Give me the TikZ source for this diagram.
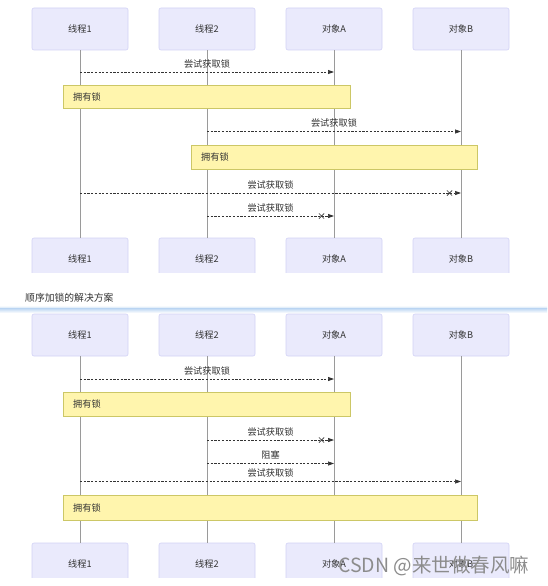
\documentclass[tikz,border=0pt]{standalone}
\usepackage{fontspec}
\setmainfont{Noto Sans CJK SC}
\usetikzlibrary{arrows.meta}
\definecolor{actfill}{HTML}{EAEAFC}
\definecolor{actdraw}{HTML}{D2D2F6}
\definecolor{notefill}{HTML}{FFF5AD}
\definecolor{notedraw}{HTML}{CCC766}
\definecolor{txt}{HTML}{333333}
\definecolor{life}{HTML}{9A9A9A}
\definecolor{sepblue}{HTML}{C4DBF4}
\definecolor{wm}{HTML}{8C8C8C}
\begin{document}
\begin{tikzpicture}[x=1pt,y=-1pt,
  font=\fontsize{9.2}{10}\selectfont,
  actor/.style={draw=actdraw, fill=actfill, rounded corners=2pt, line width=0.6pt,
    minimum width=96pt, minimum height=42pt, inner sep=0pt, text=txt},
  notebox/.style={draw=notedraw, fill=notefill, line width=0.6pt, inner sep=0pt},
  notetext/.style={anchor=west, inner sep=0pt, text=txt},
  lifeline/.style={draw=life, line width=0.7pt},
  msg/.style={draw=txt, line width=0.7pt, dash pattern=on 2.2pt off 1.5pt,
    -{Triangle[length=6pt,width=4pt]}},
  lbl/.style={midway, above=3.5pt, inner sep=0pt, text=txt},
  crossmk/.style={draw=txt, line width=0.7pt}
]
\useasboundingbox (0,0) rectangle (547,586);
\fill[white] (0,0) rectangle (547,586);

% ================= diagram 1 =================
\node[actor] (t1) at (80,29) {线程1};
\node[actor] (t2) at (207,29) {线程2};
\node[actor] (ta) at (334,29) {对象A};
\node[actor] (tb) at (461,29) {对象B};
\begin{scope}
  \clip (0,230) rectangle (547,272);
  \node[actor] (u1) at (80,259) {线程1};
  \node[actor] (u2) at (207,259) {线程2};
  \node[actor] (ua) at (334,259) {对象A};
  \node[actor] (ub) at (461,259) {对象B};
\end{scope}
\draw[lifeline] (t1.south) -- (u1.north);
\draw[lifeline] (t2.south) -- (u2.north);
\draw[lifeline] (ta.south) -- (ua.north);
\draw[lifeline] (tb.south) -- (ub.north);

% message 1
\coordinate (m1s) at (80,72);
\coordinate (m1e) at (334,72);
\draw[msg] (m1s) -- node[lbl] {尝试获取锁} (m1e);
% note 1
\path[notebox] (63,85) rectangle (350,108);
\node[notetext] (n1) at (73,96.5) {拥有锁};
% message 2
\coordinate (m2s) at (207,131.5);
\coordinate (m2e) at (461,131.5);
\draw[msg] (m2s) -- node[lbl] {尝试获取锁} (m2e);
% note 2
\path[notebox] (191,145) rectangle (477.5,169.5);
\node[notetext] (n2) at (201,157.3) {拥有锁};
% message 3 (blocked)
\coordinate (m3s) at (80,193);
\coordinate (m3e) at (461,193);
\coordinate (x3) at (449.5,193);
\draw[msg] (m3s) -- node[lbl] {尝试获取锁} (m3e);
\draw[crossmk] (x3) +(-2.6,-2.6) -- +(2.6,2.6) +(-2.6,2.6) -- +(2.6,-2.6);
% message 4 (blocked)
\coordinate (m4s) at (207,216);
\coordinate (m4e) at (334,216);
\coordinate (x4) at (321.5,216);
\draw[msg] (m4s) -- node[lbl] {尝试获取锁} (m4e);
\draw[crossmk] (x4) +(-2.6,-2.6) -- +(2.6,2.6) +(-2.6,2.6) -- +(2.6,-2.6);

% ================= title & separator =================
\node[anchor=west, inner sep=0pt, text=txt, font=\fontsize{9.8}{11}\selectfont] (title) at (25,298) {顺序加锁的解决方案};
\shade[top color=white, bottom color=sepblue] (0,305.5) rectangle (547,308.8);
\shade[top color=sepblue, bottom color=white] (0,308.8) rectangle (547,313);

% ================= diagram 2 =================
\node[actor] (s1) at (80,335) {线程1};
\node[actor] (s2) at (207,335) {线程2};
\node[actor] (sa) at (334,335) {对象A};
\node[actor] (sb) at (461,335) {对象B};
\begin{scope}
  \clip (0,535) rectangle (547,577);
  \node[actor] (v1) at (80,564) {线程1};
  \node[actor] (v2) at (207,564) {线程2};
  \node[actor] (va) at (334,564) {对象A};
  \node[actor] (vb) at (461,564) {对象B};
\end{scope}
\draw[lifeline] (s1.south) -- (v1.north);
\draw[lifeline] (s2.south) -- (v2.north);
\draw[lifeline] (sa.south) -- (va.north);
\draw[lifeline] (sb.south) -- (vb.north);

% message 1
\coordinate (k1s) at (80,379);
\coordinate (k1e) at (334,379);
\draw[msg] (k1s) -- node[lbl] {尝试获取锁} (k1e);
% note 1
\path[notebox] (63.5,392.5) rectangle (350,416);
\node[notetext] (p1) at (73,404.3) {拥有锁};
% message 2 (blocked)
\coordinate (k2s) at (207,440);
\coordinate (k2e) at (334,440);
\coordinate (y2) at (321.5,440);
\draw[msg] (k2s) -- node[lbl] {尝试获取锁} (k2e);
\draw[crossmk] (y2) +(-2.6,-2.6) -- +(2.6,2.6) +(-2.6,2.6) -- +(2.6,-2.6);
% message 3
\coordinate (k3s) at (207,463.5);
\coordinate (k3e) at (334,463.5);
\draw[msg] (k3s) -- node[lbl] {阻塞} (k3e);
% message 4
\coordinate (k4s) at (80,481.5);
\coordinate (k4e) at (461,481.5);
\draw[msg] (k4s) -- node[lbl] {尝试获取锁} (k4e);
% note 2
\path[notebox] (63.5,495) rectangle (477.5,520);
\node[notetext] (p2) at (73,507.5) {拥有锁};

% watermark
\node[anchor=west, inner sep=0pt, text=wm, font=\fontsize{19.5}{21}\selectfont] (csdn) at (338,566) {CSDN @来世做春风嘛};
\end{tikzpicture}
\end{document}
